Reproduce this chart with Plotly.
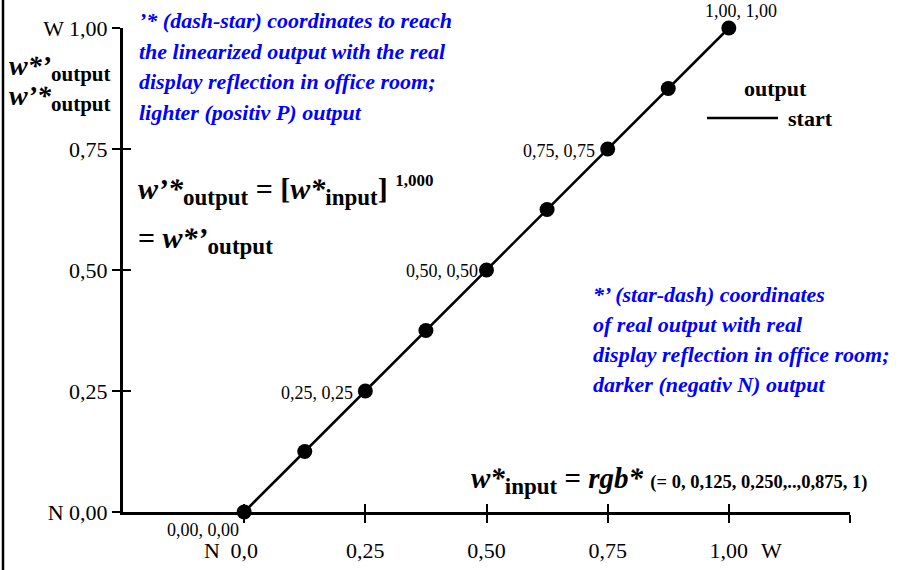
import plotly.graph_objects as go

# ---- data ----
w_input = [0.0, 0.125, 0.25, 0.375, 0.5, 0.625, 0.75, 0.875, 1.0]
w_output = [0.0, 0.125, 0.25, 0.375, 0.5, 0.625, 0.75, 0.875, 1.0]
point_label_idx = [0, 2, 4, 6, 8]
point_labels = ["0,00, 0,00", "0,25, 0,25", "0,50, 0,50", "0,75, 0,75", "1,00, 1,00"]
x_tickvals = [0.0, 0.25, 0.5, 0.75, 1.0, 1.25]
x_ticktext = ["0,0", "0,25", "0,50", "0,75", "1,00", ""]
y_tickvals = [0.0, 0.25, 0.5, 0.75, 1.0]
y_ticktext = ["N 0,00", "0,25", "0,50", "0,75", "W 1,00"]

W, H = 906, 570
ML, MR, MT, MB = 123, 56, 28, 58
XR = [-0.25, 1.25]
YR = [0.0, 1.0]
PW, PH = W - ML - MR, H - MT - MB

def PX(px):
    return (px - ML) / PW

def PY(py):
    return (H - MB - py) / PH

FONT = "Liberation Serif, Times New Roman, serif"
BLUE = "#0000ff"

fig = go.Figure()
fig.add_trace(go.Scatter(
    x=w_input, y=w_output, mode="lines+markers",
    line=dict(color="black", width=2.6),
    marker=dict(color="black", size=15),
    cliponaxis=False, showlegend=False, hoverinfo="skip"))

# invisible trace for the inner-tick overlay axes
fig.add_trace(go.Scatter(x=[None], y=[None], xaxis="x2", yaxis="y2",
                         showlegend=False, hoverinfo="skip"))

axis_common = dict(showgrid=False, zeroline=False, fixedrange=True)
fig.update_layout(
    width=W, height=H,
    margin=dict(l=ML, r=MR, t=MT, b=MB, pad=0, autoexpand=False),
    paper_bgcolor="white", plot_bgcolor="white",
    font=dict(family=FONT, color="black", size=19),
    xaxis=dict(range=XR, tickvals=x_tickvals, ticktext=x_ticktext,
               ticks="outside", ticklen=8, tickwidth=2, tickcolor="black",
               showline=True, linewidth=3, linecolor="black",
               ticklabelstandoff=9, tickfont=dict(size=22, family=FONT),
               automargin=False, **axis_common),
    yaxis=dict(range=YR, tickvals=y_tickvals, ticktext=y_ticktext,
               ticks="outside", ticklen=8, tickwidth=2, tickcolor="black",
               showline=True, linewidth=3, linecolor="black",
               ticklabelstandoff=0, tickfont=dict(size=22, family=FONT),
               automargin=False, **axis_common),
    xaxis2=dict(range=XR, overlaying="x", anchor="y", tickvals=x_tickvals,
                showticklabels=False, ticks="inside", ticklen=8, tickwidth=2,
                tickcolor="black", showline=False, **axis_common),
    yaxis2=dict(range=YR, overlaying="y", anchor="x", tickvals=y_tickvals,
                showticklabels=False, ticks="inside", ticklen=8, tickwidth=2,
                tickcolor="black", showline=False, **axis_common),
)

ann = []

def A(text, px, py, xanchor="left", yanchor="middle", size=19, color="black"):
    ann.append(dict(text=text, x=PX(px), y=PY(py), xref="paper", yref="paper",
                    xanchor=xanchor, yanchor=yanchor, showarrow=False,
                    font=dict(family=FONT, size=size, color=color)))

# point labels
offsets = {0: ("right", 241, 530), 2: ("right", 355, 393), 4: ("right", 480, 271),
           6: ("right", 597, 151), 8: ("center", 741, 11)}
for i, lab in zip(point_label_idx, point_labels):
    xa, px, py = offsets[i]
    A(lab, px, py, xanchor=xa, size=18)

# N / W axis markers on x axis
A("N", 212, 550, xanchor="center", size=22)
A("W", 771, 550, xanchor="center", size=22)

# top-left blue text
blue1 = ["’* (dash-star) coordinates to reach",
         "the linearized output with the real",
         "display reflection in office room;",
         "lighter (positiv P) output"]
for k, t in enumerate(blue1):
    A("<b><i>" + t + "</i></b>", 137, 21 + k * 30.5, size=22, color=BLUE)

# right blue text
blue2 = ["*’ (star-dash) coordinates",
         "of real output with real",
         "display reflection in office room;",
         "darker (negativ N) output"]
for k, t in enumerate(blue2):
    A("<b><i>" + t + "</i></b>", 591, 294 + k * 30, size=22, color=BLUE)

SUB = "<sub><span style='font-size:23px'>%s</span></sub>"
SUB_S = "<sub><span style='font-size:21px'>%s</span></sub>"

# left y-axis name
A("<b><i>w*’</i>" + SUB_S % "output" + "</b>", 7, 68, size=28)
A("<b><i>w’*</i>" + SUB_S % "output" + "</b>", 7, 98, size=28)

# formula
A("<b><i>w’*</i>" + SUB % "output" + " = [<i>w*</i>" + SUB % "input" + "] "
  "<sup><span style='font-size:17px'>1,000</span></sup></b>", 136, 190, size=30)
A("<b>= <i>w*’</i>" + SUB % "output" + "</b>", 136, 240, size=30)

# legend-like text
A("<b>output</b>", 775, 89, xanchor="center", size=22)
A("<b>start</b>", 786, 118, xanchor="left", size=22)

# bottom formula
A("<b><i>w*</i>" + SUB % "input" + " = <i>rgb*</i> "
  "<span style='font-size:18.5px'>(= 0, 0,125, 0,250,..,0,875, 1)</span></b>",
  469, 480, size=29)

fig.update_layout(annotations=ann)

# legend sample line and left frame line
fig.add_shape(type="line", xref="paper", yref="paper",
              x0=PX(707), x1=PX(778), y0=PY(118), y1=PY(118),
              line=dict(color="black", width=2.5))
fig.add_shape(type="line", xref="paper", yref="paper",
              x0=PX(3), x1=PX(3), y0=PY(0), y1=PY(570),
              line=dict(color="black", width=2.5))

fig.write_html("out.html", config={"displayModeBar": False},
               post_script="document.body.style.margin='0';")
